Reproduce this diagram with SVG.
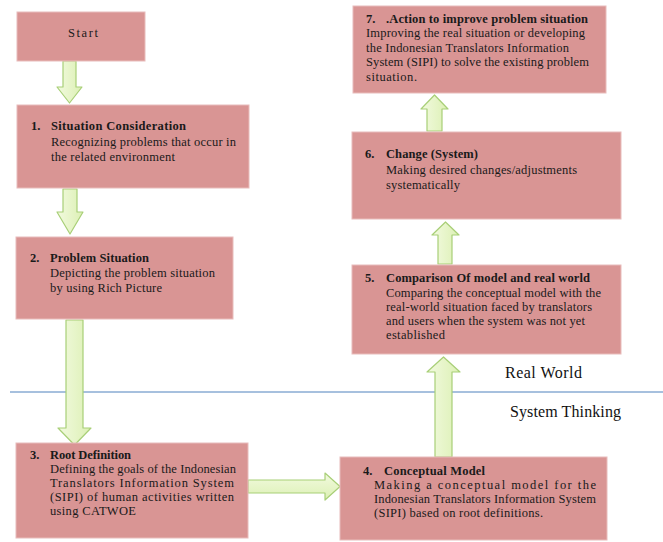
<svg xmlns="http://www.w3.org/2000/svg" width="663" height="542" viewBox="0 0 663 542">
<defs>
<linearGradient id="gv" x1="0" y1="0" x2="1" y2="0">
<stop offset="0" stop-color="#f2fadf"/><stop offset="1" stop-color="#dcf0b4"/>
</linearGradient>
<linearGradient id="gh" x1="0" y1="0" x2="0" y2="1">
<stop offset="0" stop-color="#f2fadf"/><stop offset="1" stop-color="#dcf0b4"/>
</linearGradient>
<style>
.box{fill:#d99594;stroke:#e8bcbb;stroke-width:1}
.t{font-family:"Liberation Serif","Times New Roman",serif;font-size:12.5px;fill:#1a1a1a}
.b{font-weight:bold}
.arr{fill:url(#gv);stroke:#a8cf77;stroke-width:1.2;stroke-linejoin:round}
.arrh{fill:url(#gh);stroke:#a8cf77;stroke-width:1.2;stroke-linejoin:round}
.lbl{font-family:"Liberation Serif","Times New Roman",serif;font-size:16px;fill:#111}
</style>
</defs>
<rect width="663" height="542" fill="#ffffff"/>
<line x1="10" y1="392" x2="663" y2="392" stroke="#4f81bd" stroke-width="1"/>
<g id="connectors">
<polygon class="arr" points="63,61 76,61 76,87 82,87 69.5,103 57,87 63,87"/>
<polygon class="arr" points="63,189 77,189 77,212 83,212 70,234 57,212 63,212"/>
<polygon class="arr" points="66,320 83,320 83,428 91,428 74.5,445 58,428 66,428"/>
<polygon class="arrh" points="248,480 325,480 325,473 340,486.5 325,500 325,493 248,493"/>
<polygon class="arr" points="435,457 452,457 452,372 460,372 443.5,357 427,372 435,372"/>
<polygon class="arr" points="438,264 452,264 452,235 459,235 445.5,222 432,235 438,235"/>
<polygon class="arr" points="427,131 442,131 442,109 448,109 434.5,95 421,109 427,109"/>
</g>
<g id="start">
<rect class="box" x="17" y="12" width="128" height="49"/>
<text class="t" x="68" y="37" textLength="30">Start</text>
</g>
<g id="n1">
<rect class="box" x="17" y="105" width="232" height="83"/>
<text class="t b" x="31" y="130">1.</text>
<text class="t b" x="51" y="130" textLength="135">Situation  Consideration</text>
<text class="t" x="51" y="146" textLength="185">Recognizing problems that occur in</text>
<text class="t" x="51" y="161" textLength="124">the related environment</text>
</g>
<g id="n2">
<rect class="box" x="16" y="237" width="217" height="82"/>
<text class="t b" x="30" y="262">2.</text>
<text class="t b" x="50" y="262" textLength="99">Problem Situation</text>
<text class="t" x="50" y="277" textLength="165">Depicting the problem situation</text>
<text class="t" x="50" y="292" textLength="112">by using Rich Picture</text>
</g>
<g id="n3">
<rect class="box" x="16" y="443" width="232" height="95"/>
<text class="t b" x="30" y="459">3.</text>
<text class="t b" x="50" y="459" textLength="81">Root Definition</text>
<text class="t" x="50" y="473" textLength="186">Defining the goals of the Indonesian</text>
<text class="t" x="50" y="487" textLength="184">Translators Information System</text>
<text class="t" x="50" y="501" textLength="184">(SIPI) of human activities written</text>
<text class="t" x="50" y="515" textLength="86">using CATWOE</text>
</g>
<g id="n4">
<rect class="box" x="340" y="457" width="267" height="83"/>
<text class="t b" x="363" y="475">4.</text>
<text class="t b" x="384" y="475" textLength="101">Conceptual Model</text>
<text class="t" x="374" y="489" textLength="222">Making a conceptual model for the</text>
<text class="t" x="374" y="503" textLength="222">Indonesian Translators Information System</text>
<text class="t" x="374" y="517" textLength="169">(SIPI) based on root definitions.</text>
</g>
<g id="n5">
<rect class="box" x="352" y="265" width="269" height="89"/>
<text class="t b" x="365" y="282">5.</text>
<text class="t b" x="386" y="282" textLength="204">Comparison Of model and real world</text>
<text class="t" x="386" y="297" textLength="215">Comparing the conceptual model with the</text>
<text class="t" x="386" y="311" textLength="206">real-world situation faced by translators</text>
<text class="t" x="386" y="325" textLength="199">and users when the system was not yet</text>
<text class="t" x="386" y="339" textLength="59">established</text>
</g>
<g id="n6">
<rect class="box" x="352" y="132" width="269" height="87"/>
<text class="t b" x="365" y="158">6.</text>
<text class="t b" x="386" y="158" textLength="92">Change (System)</text>
<text class="t" x="386" y="174" textLength="191">Making desired changes/adjustments</text>
<text class="t" x="386" y="189" textLength="74">systematically</text>
</g>
<g id="n7">
<rect class="box" x="353" y="6" width="253" height="87"/>
<text class="t b" x="366" y="23">7.</text>
<text class="t b" x="386" y="23" textLength="202">.Action to improve problem situation</text>
<text class="t" x="366" y="37" textLength="219">Improving the real situation or developing</text>
<text class="t" x="366" y="52" textLength="203">the Indonesian Translators Information</text>
<text class="t" x="366" y="66" textLength="223">System (SIPI) to solve the existing problem</text>
<text class="t" x="366" y="81" textLength="51">situation.</text>
</g>
<text class="lbl" x="505" y="378" textLength="77">Real World</text>
<text class="lbl" x="510" y="417" textLength="111">System Thinking</text>
</svg>
